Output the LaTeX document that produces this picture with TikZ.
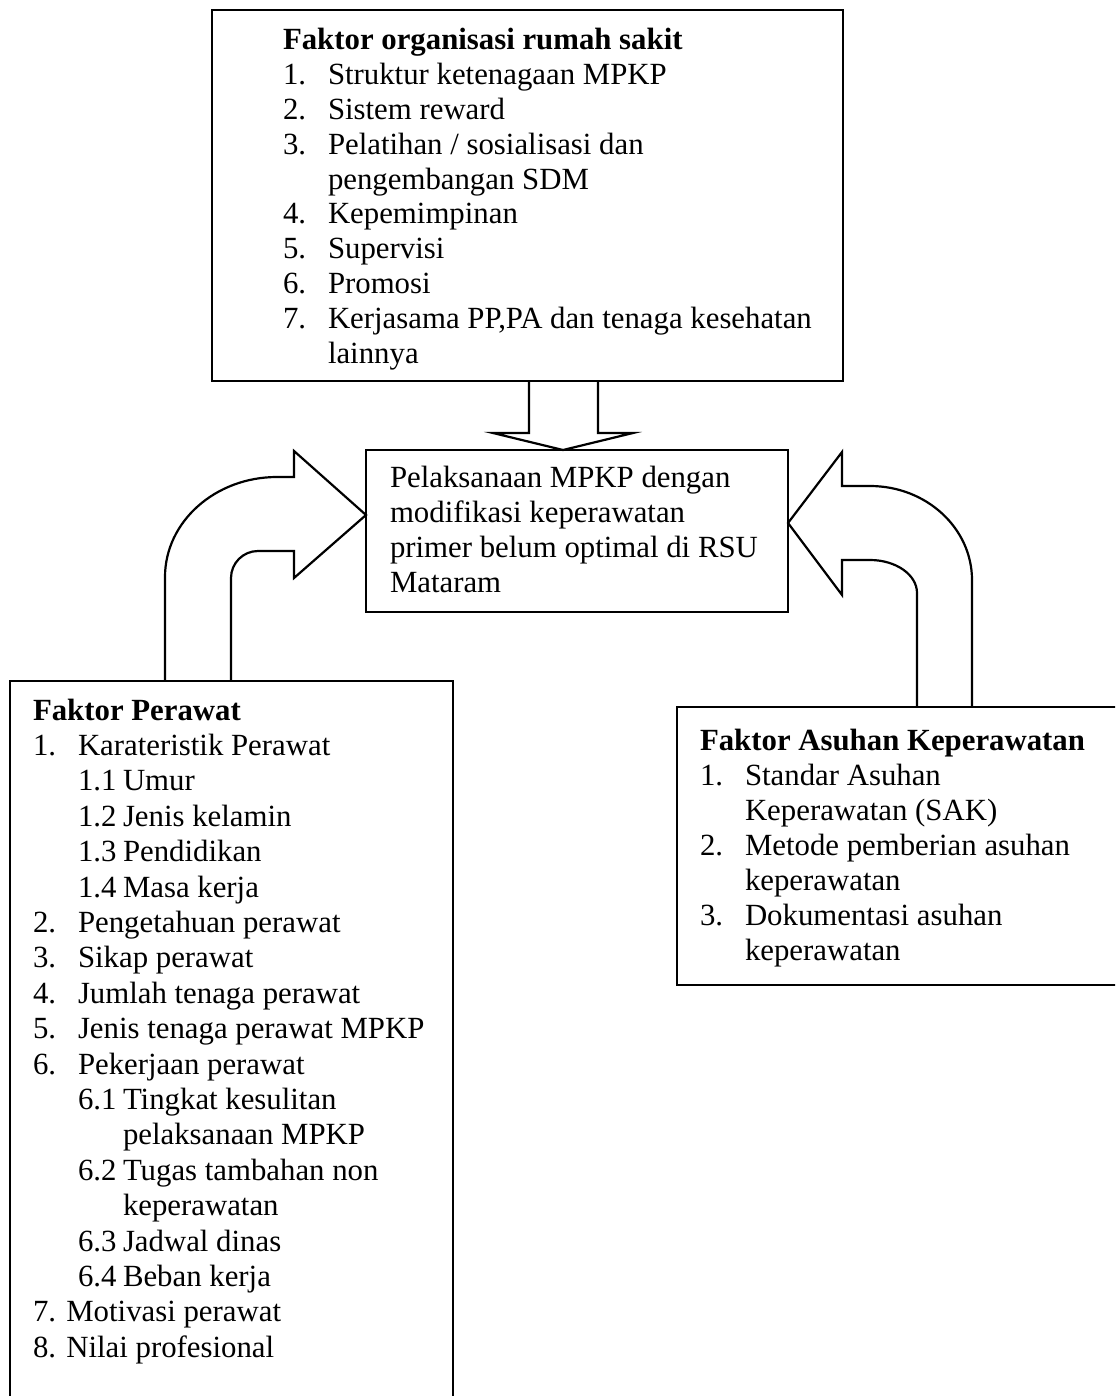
\documentclass[tikz,border=0pt]{standalone}
\usepackage{fontspec}
\setmainfont{Liberation Serif}
\usetikzlibrary{calc}
% numbered entry with a hanging indent, and a continuation line
\newcommand{\numitem}[2]{\makebox[22.5pt][l]{#1}#2}
\newcommand{\hang}[1]{\hspace*{22.5pt}#1}
\newcommand{\hangg}[1]{\hspace*{45pt}#1}

\begin{document}
\begin{tikzpicture}[x=0.5pt,y=-0.5pt,line width=1.1pt,
  frame/.style={draw,rectangle,inner sep=0pt,outer sep=0pt,anchor=north west},
  listtext/.style={anchor=base west,inner sep=0pt,outer sep=0pt},
  blockarrow/.style={draw,line join=miter}]
\useasboundingbox (0,0) rectangle (1115,1396);
\clip (0,0) rectangle (1115,1396);

% frames
\node[frame,minimum width=315.5pt,minimum height=185.5pt] (org) at (212,10) {};
\node[frame,minimum width=211pt,minimum height=81pt] (pel) at (366,450) {};
\node[frame,minimum width=221.5pt,minimum height=365pt] (perawat) at (10,681) {};
\node[frame,minimum width=225pt,minimum height=139pt] (asuhan) at (677,707) {};

% texts
\node[listtext,font=\fontsize{15.4}{17.4}\selectfont] (orgtext) at (283,50) {%
\begin{tabular}[t]{@{}l@{}}
\textbf{Faktor organisasi rumah sakit}\\
\numitem{1.}{Struktur ketenagaan MPKP}\\
\numitem{2.}{Sistem reward}\\
\numitem{3.}{Pelatihan / sosialisasi dan}\\
\hang{pengembangan SDM}\\
\numitem{4.}{Kepemimpinan}\\
\numitem{5.}{Supervisi}\\
\numitem{6.}{Promosi}\\
\numitem{7.}{Kerjasama PP,PA dan tenaga kesehatan}\\
\hang{lainnya}
\end{tabular}};

\node[listtext,font=\fontsize{15.4}{17.5}\selectfont] (peltext) at (390,487) {%
\begin{tabular}[t]{@{}l@{}}
Pelaksanaan MPKP dengan\\
modifikasi keperawatan\\
primer belum optimal di RSU\\
Mataram
\end{tabular}};

\node[listtext,font=\fontsize{15.4}{17.7}\selectfont] (perawattext) at (33,720) {%
\begin{tabular}[t]{@{}l@{}}
\textbf{Faktor Perawat}\\
\numitem{1.}{Karateristik Perawat}\\
\hang{\numitem{1.1}{Umur}}\\
\hang{\numitem{1.2}{Jenis kelamin}}\\
\hang{\numitem{1.3}{Pendidikan}}\\
\hang{\numitem{1.4}{Masa kerja}}\\
\numitem{2.}{Pengetahuan perawat}\\
\numitem{3.}{Sikap perawat}\\
\numitem{4.}{Jumlah tenaga perawat}\\
\numitem{5.}{Jenis tenaga perawat MPKP}\\
\numitem{6.}{Pekerjaan perawat}\\
\hang{\numitem{6.1}{Tingkat kesulitan}}\\
\hangg{pelaksanaan MPKP}\\
\hang{\numitem{6.2}{Tugas tambahan non}}\\
\hangg{keperawatan}\\
\hang{\numitem{6.3}{Jadwal dinas}}\\
\hang{\numitem{6.4}{Beban kerja}}\\
7. Motivasi perawat\\
8. Nilai profesional
\end{tabular}};

\node[listtext,font=\fontsize{15.4}{17.5}\selectfont] (asuhantext) at (700,750) {%
\begin{tabular}[t]{@{}l@{}}
\textbf{Faktor Asuhan Keperawatan}\\
\numitem{1.}{Standar Asuhan}\\
\hang{Keperawatan (SAK)}\\
\numitem{2.}{Metode pemberian asuhan}\\
\hang{keperawatan}\\
\numitem{3.}{Dokumentasi asuhan}\\
\hang{keperawatan}
\end{tabular}};

% block arrow from the organisation box down
\draw[blockarrow] (529,0 |- org.south) -- (529,433) -- (493,433)
  -- (563,0 |- pel.north) -- (633,433) -- (598,433) -- (598,0 |- org.south);

% curved block arrow from the nurse box
\draw[blockarrow] (165,0 |- perawat.north) -- (165,577)
  .. controls (165,521.8) and (215.1,477) .. (277,477)
  -- (294,477) -- (294,451) -- (pel.west |- 0,515) -- (294,578) -- (294,551)
  -- (258,551) .. controls (243.1,551) and (231,563.1) .. (231,578)
  -- (231,0 |- perawat.north);

% curved block arrow from the nursing care box
\draw[blockarrow] (972,0 |- asuhan.north) -- (972,580)
  .. controls (972,528.1) and (926.3,486) .. (870,486)
  -- (842,486) -- (842,452) -- (pel.east |- 0,523) -- (842,595) -- (842,560)
  -- (870,560) .. controls (896,560) and (917,574.8) .. (917,593)
  -- (917,0 |- asuhan.north);
\end{tikzpicture}
\end{document}
